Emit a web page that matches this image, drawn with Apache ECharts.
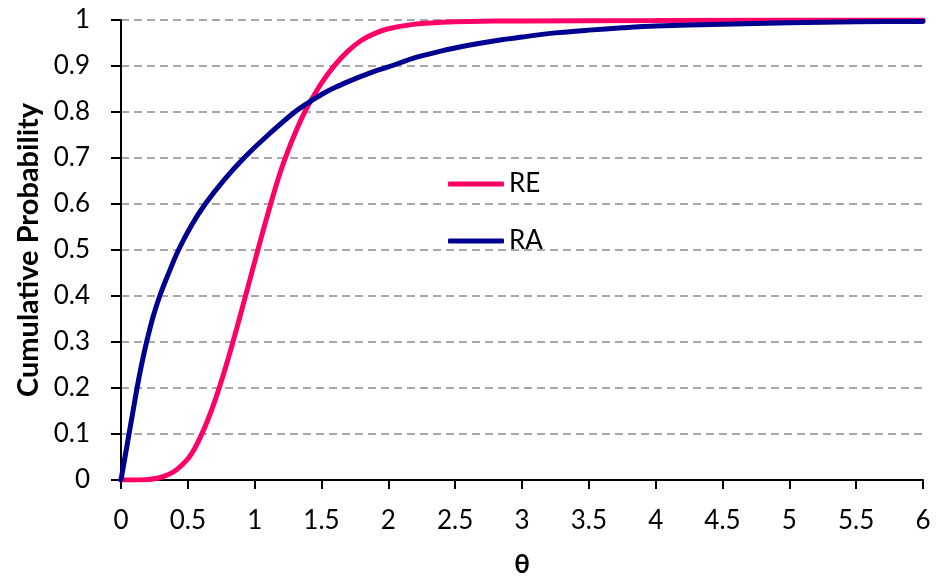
<!DOCTYPE html>
<html>
<head>
    <meta charset="utf-8">
    <style>
        html, body {
            height: 100%;
        }

        * {
            margin: 0;
            padding: 0;
        }

        #container {
            width: 937px;
            height: 580px;
        }
    </style>
</head>
<body>
<div id="container"></div>
<script type="text/javascript" src="https://cdn.jsdelivr.net/npm/echarts@6/dist/echarts.min.js"></script>
<script type="text/javascript">
    // values
    let reTheta = [0, 0.1, 0.2, 0.3, 0.4, 0.5, 0.55, 0.6, 0.65, 0.7, 0.75, 0.8, 0.85, 0.9, 0.95, 1.0, 1.05, 1.1, 1.15, 1.2, 1.25, 1.3, 1.35, 1.4, 1.5, 1.6, 1.7, 1.8, 1.9, 2.0, 2.2, 2.4, 2.6, 3.0, 4.0, 5.0, 6.0];
    let reProb = [0, 0, 0.001, 0.006, 0.019, 0.046, 0.068, 0.097, 0.131, 0.17, 0.214, 0.262, 0.313, 0.366, 0.42, 0.474, 0.528, 0.58, 0.63, 0.676, 0.716, 0.752, 0.785, 0.814, 0.863, 0.902, 0.933, 0.956, 0.971, 0.981, 0.991, 0.995, 0.997, 0.998, 0.999, 1.0, 1.0];

    let raTheta = [0, 0.03, 0.06, 0.09, 0.12, 0.15, 0.19, 0.24, 0.29, 0.35, 0.43, 0.53, 0.63, 0.77, 0.92, 1.1, 1.3, 1.4, 1.5, 1.6, 1.7, 1.8, 1.9, 2.0, 2.2, 2.4, 2.6, 2.8, 3.0, 3.25, 3.5, 3.75, 4.0, 4.5, 5.0, 5.5, 6.0];
    let raProb = [0, 0.05, 0.1, 0.15, 0.2, 0.245, 0.298, 0.355, 0.4, 0.445, 0.5, 0.555, 0.6, 0.652, 0.7, 0.75, 0.8, 0.82, 0.838, 0.853, 0.866, 0.878, 0.889, 0.898, 0.918, 0.933, 0.945, 0.955, 0.963, 0.972, 0.978, 0.983, 0.987, 0.991, 0.994, 0.996, 0.997];

    function pairs(xs, ys) {
        let out = [];
        for (let i = 0; i < xs.length; i++) {
            out.push([xs[i], ys[i]]);
        }
        return out;
    }

    let dom = document.getElementById("container");
    let myChart = echarts.init(dom);
    let font = 'Lato, "Noto Sans", sans-serif';

    let option = {
        animation: false,
        grid: {
            left: 121,
            right: 14,
            top: 20,
            bottom: 100,
            outerBoundsMode: 'none',
            containLabel: false
        },
        legend: {
            orient: 'vertical',
            left: 443,
            top: 166,
            icon: 'roundRect',
            itemWidth: 56,
            itemHeight: 5,
            itemGap: 31,
            textStyle: {
                fontFamily: font,
                fontSize: 26,
                color: '#000'
            },
            data: ['RE', 'RA']
        },
        xAxis: {
            type: 'value',
            min: 0,
            max: 6,
            interval: 0.5,
            name: 'θ',
            nameLocation: 'middle',
            nameGap: 72,
            nameTextStyle: {
                fontFamily: font,
                fontSize: 26,
                fontWeight: 'bold',
                color: '#000'
            },
            axisLine: {lineStyle: {color: '#000', width: 2}},
            axisTick: {show: true, length: 9, lineStyle: {color: '#000', width: 2}},
            axisLabel: {
                fontFamily: font,
                fontSize: 26,
                color: '#000',
                margin: 28
            },
            splitLine: {show: false}
        },
        yAxis: {
            type: 'value',
            min: 0,
            max: 1,
            interval: 0.1,
            name: 'Cumulative Probability',
            nameLocation: 'middle',
            nameGap: 77,
            nameTextStyle: {
                fontFamily: font,
                fontSize: 29,
                fontWeight: 'bold',
                color: '#000'
            },
            axisLine: {show: true, lineStyle: {color: '#000', width: 2}},
            axisTick: {show: true, length: 10, lineStyle: {color: '#000', width: 2}},
            axisLabel: {
                fontFamily: font,
                fontSize: 26,
                color: '#000',
                margin: 31,
                formatter: function (v) {
                    return String(Math.round(v * 10) / 10);
                }
            },
            splitLine: {
                show: true,
                lineStyle: {color: '#8c8c8c', width: 1.5, type: [8, 5]}
            }
        },
        series: [{
            name: 'RE',
            type: 'line',
            showSymbol: false,
            symbol: 'none',
            smooth: 0.3,
            lineStyle: {color: '#ff0066', width: 5, cap: 'round'},
            itemStyle: {color: '#ff0066'},
            data: pairs(reTheta, reProb)
        }, {
            name: 'RA',
            type: 'line',
            showSymbol: false,
            symbol: 'none',
            smooth: 0.3,
            lineStyle: {color: '#000090', width: 5, cap: 'round'},
            itemStyle: {color: '#000090'},
            data: pairs(raTheta, raProb)
        }]
    };
    myChart.setOption(option, true);
</script>
</body>
</html>
